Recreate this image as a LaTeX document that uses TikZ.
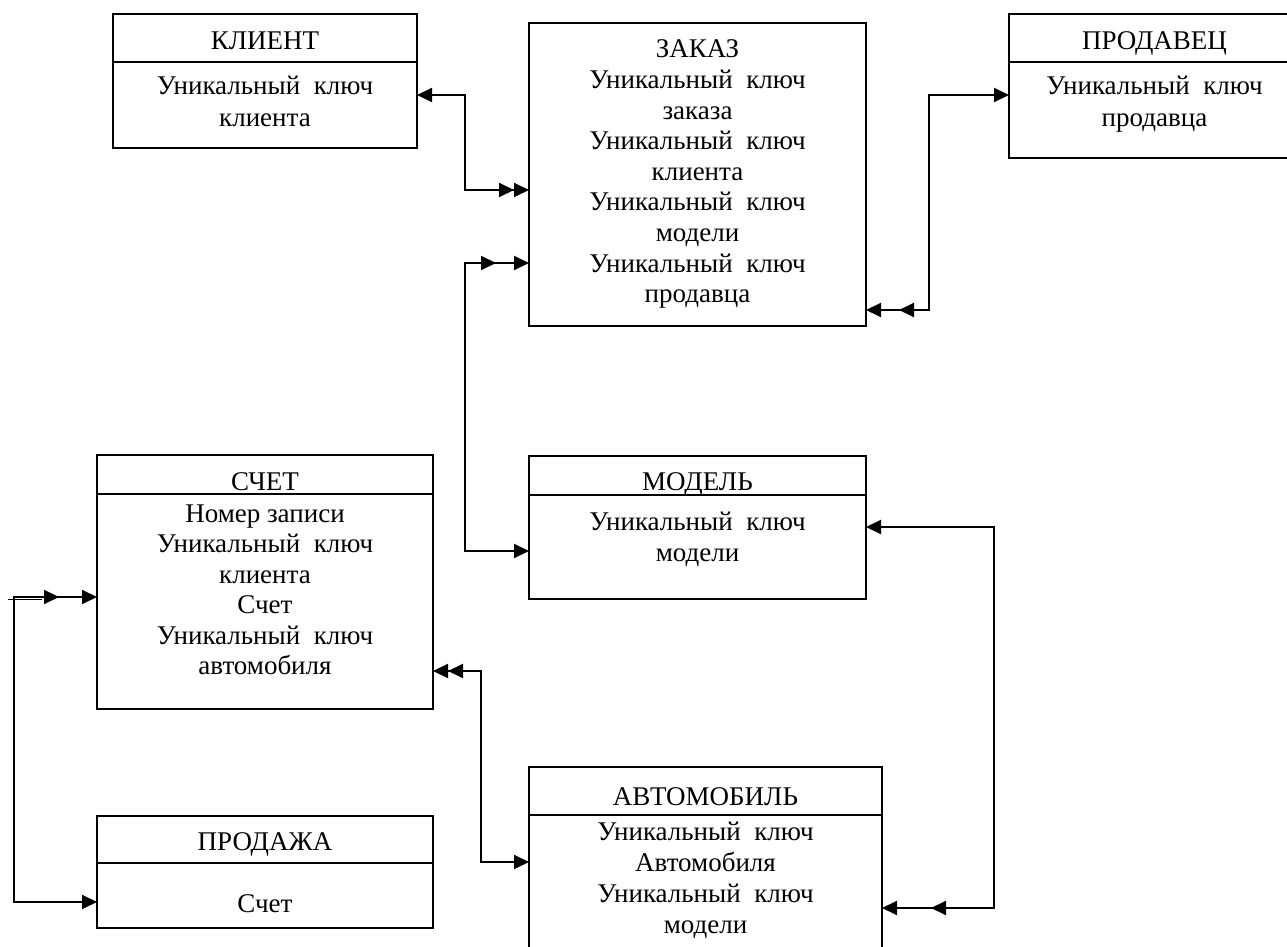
\documentclass[tikz,border=0pt]{standalone}
\usepackage{fontspec}
\setmainfont{Liberation Serif}
\usetikzlibrary{arrows.meta,fit,calc}
\tikzset{
  box/.style={draw, line width=1pt, inner sep=0pt, outer sep=0pt, rectangle},
  txt/.style={font=\fontsize{13.5pt}{15.5pt}\selectfont, inner sep=0pt, anchor=base},
  conn/.style={line width=1pt},
}
\begin{document}
\begin{tikzpicture}[x=0.5pt,y=-0.5pt]
\clip (0,0) rectangle (1287,947);
\fill[white] (0,0) rectangle (1287,947);

% boxes
\node[box, fit={(113,14) (417,148)}] (klient) {};
\node[box, fit={(529,23) (866,326)}] (zakaz) {};
\node[box, fit={(1009,14) (1300,158)}] (prodavec) {};
\node[box, fit={(97,455) (433,709)}] (schet) {};
\node[box, fit={(529,456) (866,599)}] (model) {};
\node[box, fit={(97,816) (433,928)}] (prodazha) {};
\node[box, fit={(529,767) (882,975)}] (avto) {};

% header dividers
\draw[conn] ($(klient.north west)+(0,48)$) -- ($(klient.north east)+(0,48)$);
\draw[conn] ($(prodavec.north west)+(0,48)$) -- ($(prodavec.north east)+(0,48)$);
\draw[conn] ($(schet.north west)+(0,39)$) -- ($(schet.north east)+(0,39)$);
\draw[conn] ($(model.north west)+(0,39)$) -- ($(model.north east)+(0,39)$);
\draw[conn] ($(prodazha.north west)+(0,47)$) -- ($(prodazha.north east)+(0,47)$);
\draw[conn] ($(avto.north west)+(0,48)$) -- ($(avto.north east)+(0,48)$);

% texts
\node[txt] (klt) at ($(klient.north)+(0,36)$) {КЛИЕНТ};
\node[txt] (kl1) at ($(klient.north)+(0,81)$) {Уникальный\ \ ключ};
\node[txt] (kl2) at ($(klient.north)+(0,113)$) {клиента};

\node[txt] (prt) at ($(prodavec.north)+(0,36)$) {ПРОДАВЕЦ};
\node[txt] (pr1t) at ($(prodavec.north)+(0,81)$) {Уникальный\ \ ключ};
\node[txt] (pr2t) at ($(prodavec.north)+(0,113)$) {продавца};

\foreach \t [count=\i] in {ЗАКАЗ, {Уникальный\ \ ключ}, заказа, {Уникальный\ \ ключ}, клиента, {Уникальный\ \ ключ}, модели, {Уникальный\ \ ключ}, продавца}
  \node[txt] (zl\i) at ($(zakaz.north)+(0,{4.4+30.6*\i})$) {\t};

\node[txt] (sct) at ($(schet.north)+(0,35)$) {СЧЕТ};
\foreach \t [count=\i] in {Номер записи, {Уникальный\ \ ключ}, клиента, Счет, {Уникальный\ \ ключ}, автомобиля}
  \node[txt] (sl\i) at ($(schet.north)+(0,{36.5+30.5*\i})$) {\t};

\node[txt] (mdt) at ($(model.north)+(0,34)$) {МОДЕЛЬ};
\node[txt] (md1) at ($(model.north)+(0,74)$) {Уникальный\ \ ключ};
\node[txt] (md2) at ($(model.north)+(0,105)$) {модели};

\node[txt] (pdt) at ($(prodazha.north)+(0,34)$) {ПРОДАЖА};
\node[txt] (pd1) at ($(prodazha.north)+(0,96)$) {Счет};

\node[txt] (avt) at ($(avto.north)+(0,38)$) {АВТОМОБИЛЬ};
\foreach \t [count=\i] in {{Уникальный\ \ ключ}, Автомобиля, {Уникальный\ \ ключ}, модели}
  \node[txt] (al\i) at ($(avto.north)+(0,{42+31*\i})$) {\t};

% connection points
\coordinate (k1) at ($(klient.north east)+(0,81)$);
\coordinate (z1) at ($(zakaz.north west)+(0,167)$);
\coordinate (p1) at ($(prodavec.north west)+(0,81)$);
\coordinate (z2) at ($(zakaz.north east)+(0,287)$);
\coordinate (m1) at ($(model.north west)+(0,95)$);
\coordinate (z3) at ($(zakaz.north west)+(0,240)$);
\coordinate (m2) at ($(model.north east)+(0,71)$);
\coordinate (a1) at ($(avto.north east)+(0,141)$);
\coordinate (a2) at ($(avto.north west)+(0,95)$);
\coordinate (s1) at ($(schet.north east)+(0,216)$);
\coordinate (pq1) at ($(prodazha.north west)+(0,86)$);
\coordinate (s2) at ($(schet.north west)+(0,142)$);
\coordinate (stub) at (8,599.5);

% connectors
\draw[conn, {Triangle[length=7.5pt,width=7pt]}-{Triangle[length=7.5pt,width=7pt]Triangle[length=7.5pt,width=7pt]}]
  (k1) -- ++(48,0) |- (z1);
\draw[conn, {Triangle[length=7.5pt,width=7pt]}-{Triangle[length=7.5pt,width=7pt,sep=9pt]Triangle[length=7.5pt,width=7pt]}]
  (p1) -- ++(-80,0) |- (z2);
\draw[conn, {Triangle[length=7.5pt,width=7pt]}-{Triangle[length=7.5pt,width=7pt,sep=9pt]Triangle[length=7.5pt,width=7pt]}]
  (m1) -- ++(-64,0) |- (z3);
\draw[conn, {Triangle[length=7.5pt,width=7pt]}-{Triangle[length=7.5pt,width=7pt,sep=17pt]Triangle[length=7.5pt,width=7pt]}]
  (m2) -- ++(128,0) |- (a1);
\draw[conn, {Triangle[length=7.5pt,width=7pt]}-{Triangle[length=7.5pt,width=7pt]Triangle[length=7.5pt,width=7pt]}]
  (a2) -- ++(-48,0) |- (s1);
\draw[conn, {Triangle[length=7.5pt,width=7pt]}-{Triangle[length=7.5pt,width=7pt,sep=11.5pt]Triangle[length=7.5pt,width=7pt]}]
  (pq1) -- ++(-83,0) |- (s2);
\draw[line width=0.8pt] (stub) -- ++(34,0);
\end{tikzpicture}
\end{document}
